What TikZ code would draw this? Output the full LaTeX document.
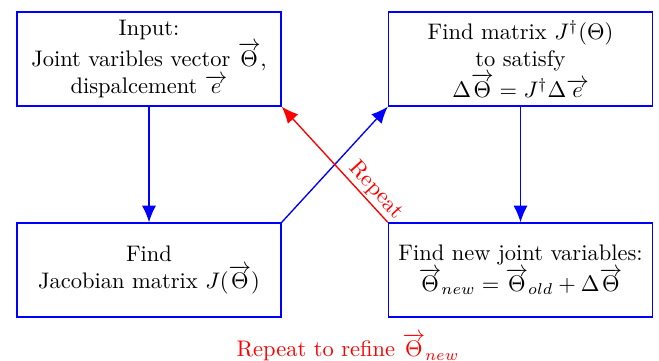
\documentclass[tikz,border=0pt]{standalone}
\usepackage{amsmath,amssymb}
\usepackage{tikz}
\usetikzlibrary{arrows.meta,positioning,calc}
\tikzset{arr/.style={-{Latex[length=2.6mm,width=2.2mm]},draw=blue,semithick},
  back/.style={-{Latex[length=2.6mm,width=2.2mm]},draw=red,semithick},
  stepbox/.style={draw=blue,semithick,align=center,minimum width=4.126cm,minimum height=1.469cm,inner sep=2pt}}

\begin{document}
\begin{tikzpicture}[x=0.01563cm,y=-0.01563cm]
\useasboundingbox (0,0) rectangle (659,360);
\node[stepbox] (input) at (149,59) {Input:\\Joint varibles vector $\overrightarrow{\Theta}$,\\dispalcement $\overrightarrow{e}$};
\node[stepbox] (pinv) at (520.5,59) {Find matrix $J^{\dagger}(\Theta)$\\to satisfy\\$\Delta\overrightarrow{\Theta}=J^{\dagger}\Delta\overrightarrow{e}$};
\node[stepbox] (jac) at (149,270) {Find\\Jacobian matrix $J(\overrightarrow{\Theta})$};
\node[stepbox] (upd) at (520.5,270) {Find new joint variables:\\$\overrightarrow{\Theta}_{new}=\overrightarrow{\Theta}_{old}+\Delta\overrightarrow{\Theta}$};
\draw[arr] (input) -- (jac);
\draw[arr] (jac.north east) -- (pinv.south west);
\draw[arr] (pinv) -- (upd);
\draw[back] (upd.north west) -- node[pos=0.2,sloped,above,text=red,inner sep=1pt] (rep) {Repeat} (input.south east);
\node[text=red] (refine) at (348,347) {Repeat to refine $\overrightarrow{\Theta}_{new}$};
\end{tikzpicture}
\end{document}
